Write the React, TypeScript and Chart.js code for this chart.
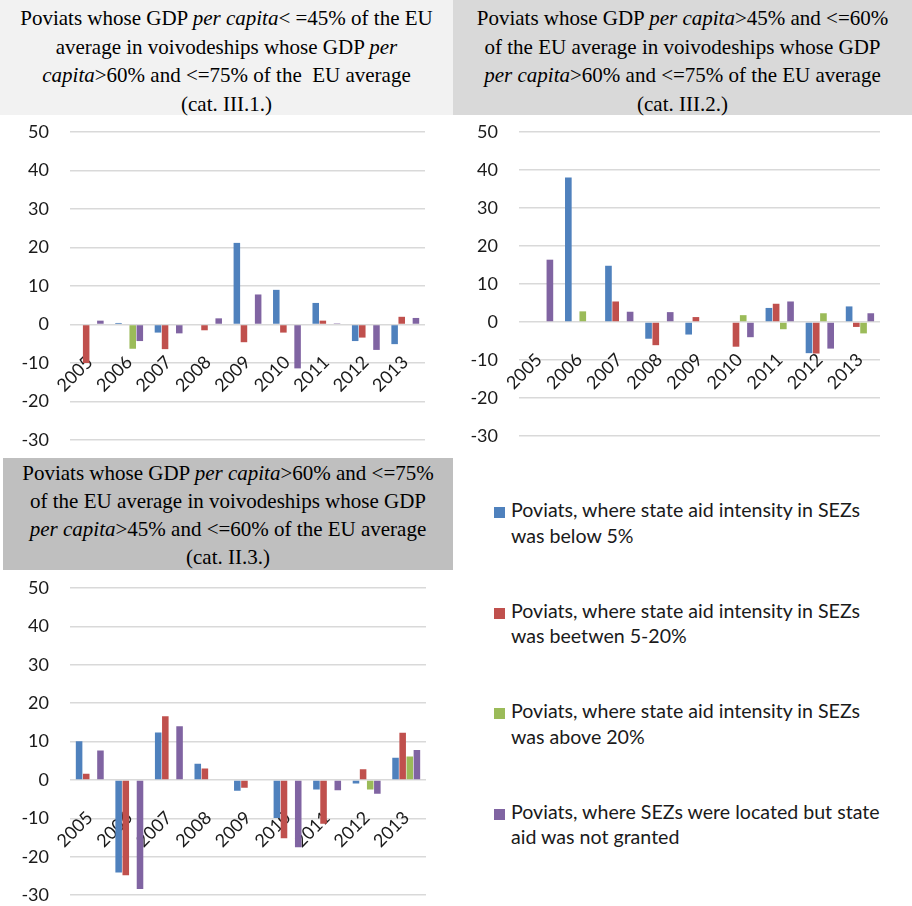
import React, { useEffect, useRef } from 'react';
import { Chart, registerables } from 'chart.js';

Chart.register(...registerables);

const categories = ['2005', '2006', '2007', '2008', '2009', '2010', '2011', '2012', '2013'];

const seriesNames = [
  'Poviats, where state aid intensity in SEZs was below 5%',
  'Poviats, where state aid intensity in SEZs was beetwen 5-20%',
  'Poviats, where state aid intensity in SEZs was above 20%',
  'Poviats, where SEZs were located but state aid was not granted',
];
const seriesColors = ['#4f81bd', '#c0504d', '#9bbb59', '#8064a2'];

// cat. III.1.
const catIII1Below5 = [0, 0.4, -2.1, 0, 21.2, 9.0, 5.6, -4.3, -5.1];
const catIII1Between5to20 = [-10.0, 0, -6.4, -1.5, -4.6, -2.1, 1.0, -3.4, 2.0];
const catIII1Above20 = [0, -6.3, 0, 0, 0, 0, 0, 0, 0];
const catIII1NoAid = [1.0, -4.3, -2.3, 1.6, 7.8, -11.4, 0.3, -6.6, 1.7];

// cat. III.2.
const catIII2Below5 = [0, 38.0, 14.8, -4.4, -3.3, 0, 3.7, -8.2, 4.1];
const catIII2Between5to20 = [0, 0, 5.4, -6.1, 1.3, -6.5, 4.8, -8.3, -1.3];
const catIII2Above20 = [0, 2.8, 0, 0, 0, 1.8, -1.9, 2.3, -3.0];
const catIII2NoAid = [16.4, 0, 2.7, 2.6, 0, -4.0, 5.4, -7.0, 2.3];

// cat. II.3.
const catII3Below5 = [10.1, -24.1, 12.4, 4.2, -2.8, -9.9, -2.5, -0.9, 5.8];
const catII3Between5to20 = [1.6, -24.8, 16.6, 3.0, -2.0, -15.2, -11.4, 2.8, 12.3];
const catII3Above20 = [0, 0, 0, 0, 0, 0, 0, -2.5, 6.1];
const catII3NoAid = [7.7, -28.4, 14.0, 0, 0, -17.5, -2.7, -3.6, 7.8];

const yTicksMin = -30;
const yTicksMax = 50;
const yTicksStep = 10;

const TICK_FONT = { family: 'Lato', size: 18 };
const TEXT_COLOR = '#1a1a1a';

type PanelProps = {
  series: number[][];
  left: number;
  top: number;
  width: number;
  height: number;
  axisWidth: number;
  padTop: number;
  padBottom: number;
  padRight: number;
};

function BarPanel(props: PanelProps) {
  const ref = useRef<HTMLCanvasElement | null>(null);
  useEffect(() => {
    if (!ref.current) return;
    const chart = new Chart(ref.current, {
      type: 'bar',
      data: {
        labels: categories,
        datasets: props.series.map((d, i) => ({
          label: seriesNames[i],
          data: d,
          backgroundColor: seriesColors[i],
          borderWidth: 0,
          barPercentage: 0.92,
          categoryPercentage: 0.72,
        })),
      },
      options: {
        animation: false,
        responsive: false,
        maintainAspectRatio: false,
        layout: { padding: { left: 0, right: props.padRight, top: props.padTop, bottom: props.padBottom } },
        plugins: { legend: { display: false }, tooltip: { enabled: false }, title: { display: false } },
        scales: {
          x: {
            position: { y: 0 } as any,
            grid: { display: false },
            border: { display: false },
            ticks: {
              minRotation: 45,
              maxRotation: 45,
              autoSkip: false,
              padding: 19,
              font: TICK_FONT,
              color: TEXT_COLOR,
            },
            afterFit: (s: any) => {
              s.height = 0;
            },
          },
          y: {
            min: yTicksMin,
            max: yTicksMax,
            ticks: { stepSize: yTicksStep, padding: 0, font: TICK_FONT, color: TEXT_COLOR },
            grid: {
              color: '#d9d9d9',
              lineWidth: 1.5,
              drawTicks: true,
              tickLength: 21,
              tickColor: 'rgba(0,0,0,0)',
            },
            border: { display: false },
            afterFit: (s: any) => {
              s.width = props.axisWidth;
            },
          },
        },
      } as any,
    });
    return () => chart.destroy();
  }, []);
  return (
    <canvas
      ref={ref}
      width={props.width}
      height={props.height}
      style={{ position: 'absolute', left: props.left, top: props.top, width: props.width, height: props.height, display: 'block' }}
    />
  );
}

const titleStyle: React.CSSProperties = {
  position: 'absolute',
  fontFamily: '"Liberation Serif", "Times New Roman", serif',
  fontSize: 21,
  lineHeight: '28.5px',
  textAlign: 'center',
  color: '#000',
  boxSizing: 'border-box',
};

const legendTops = [497, 597.5, 698, 798.5];
const legendLines = [
  ['Poviats, where state aid intensity in SEZs', 'was below 5%'],
  ['Poviats, where state aid intensity in SEZs', 'was beetwen 5-20%'],
  ['Poviats, where state aid intensity in SEZs', 'was above 20%'],
  ['Poviats, where SEZs were located but state', 'aid was not granted'],
];

export default function App() {
  return (
    <div style={{ position: 'absolute', left: 0, top: 0, width: 912, height: 906, overflow: 'hidden', background: '#fff' }}>
      <div style={{ ...titleStyle, left: 0, top: 0, width: 453, height: 115, background: '#f2f2f2', paddingTop: 4 }}>
        Poviats whose GDP <i>per capita</i>&lt; =45% of the EU<br />
        average in voivodeships whose GDP <i>per</i><br />
        <i>capita</i>&gt;60% and &lt;=75% of the{'\u00a0'} EU average<br />
        (cat. III.1.)
      </div>
      <div style={{ ...titleStyle, left: 453, top: 0, width: 459, height: 115, background: '#d9d9d9', paddingTop: 4 }}>
        Poviats whose GDP <i>per capita</i>&gt;45% and &lt;=60%<br />
        of the EU average in voivodeships whose GDP<br />
        <i>per capita</i>&gt;60% and &lt;=75% of the EU average<br />
        (cat. III.2.)
      </div>
      <div style={{ ...titleStyle, left: 3, top: 458, width: 450, height: 112, background: '#bfbfbf', paddingTop: 1, lineHeight: '28px' }}>
        Poviats whose GDP <i>per capita</i>&gt;60% and &lt;=75%<br />
        of the EU average in voivodeships whose GDP<br />
        <i>per capita</i>&gt;45% and &lt;=60% of the EU average<br />
        (cat. II.3.)
      </div>

      <BarPanel
        series={[catIII1Below5, catIII1Between5to20, catIII1Above20, catIII1NoAid]}
        left={0}
        top={115}
        width={453}
        height={343}
        axisWidth={70}
        padTop={17}
        padBottom={18}
        padRight={28}
      />
      <BarPanel
        series={[catIII2Below5, catIII2Between5to20, catIII2Above20, catIII2NoAid]}
        left={453}
        top={115}
        width={459}
        height={343}
        axisWidth={66}
        padTop={17}
        padBottom={22}
        padRight={32}
      />
      <BarPanel
        series={[catII3Below5, catII3Between5to20, catII3Above20, catII3NoAid]}
        left={0}
        top={570}
        width={453}
        height={336}
        axisWidth={70}
        padTop={18}
        padBottom={8}
        padRight={27}
      />

      {legendLines.map((lines, i) => (
        <div key={i}>
          <div
            style={{
              position: 'absolute',
              left: 494,
              top: legendTops[i] + 10,
              width: 11,
              height: 11,
              background: seriesColors[i],
            }}
          />
          <div
            style={{
              position: 'absolute',
              left: 511,
              top: legendTops[i],
              fontFamily: 'Lato, sans-serif',
              fontSize: 19.6,
              lineHeight: '25.5px',
              color: TEXT_COLOR,
              whiteSpace: 'nowrap',
            }}
          >
            {lines[0]}
            <br />
            {lines[1]}
          </div>
        </div>
      ))}
    </div>
  );
}
